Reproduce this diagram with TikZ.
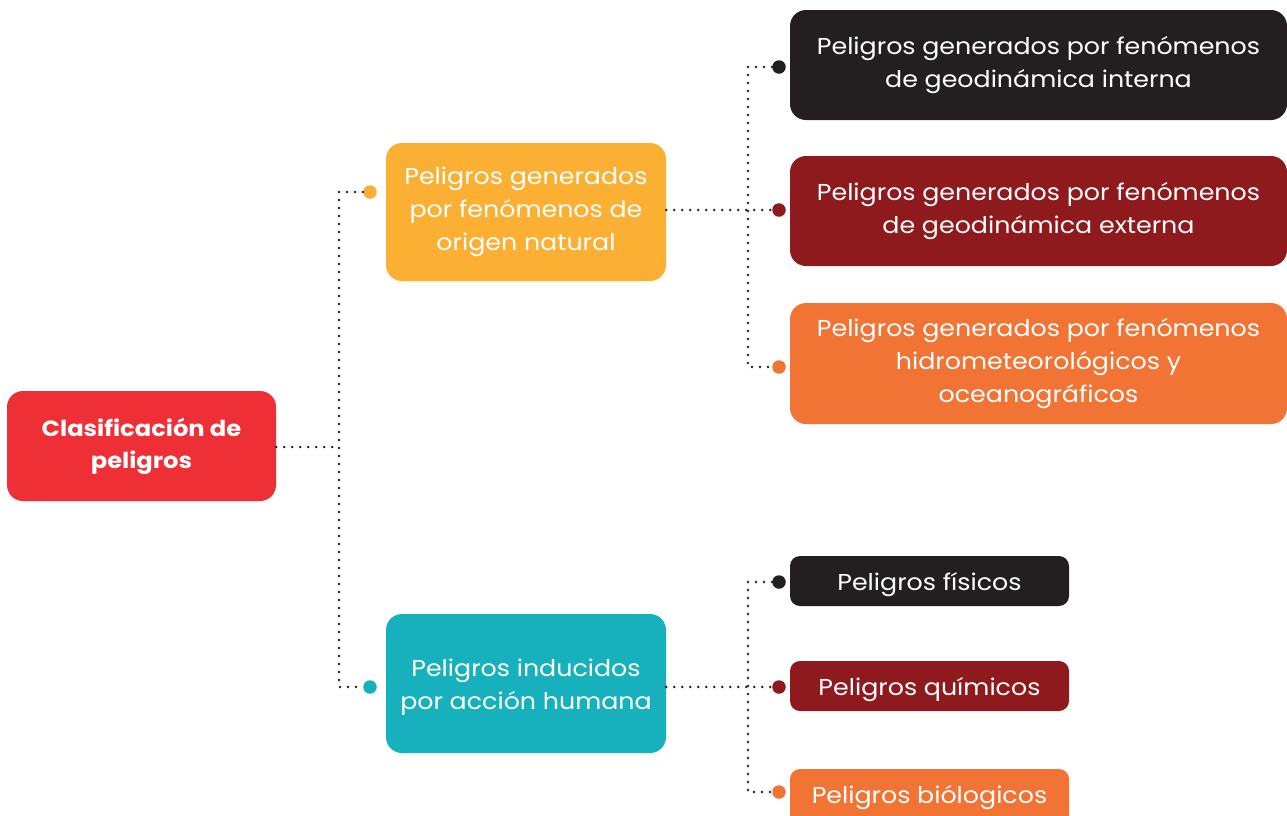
\documentclass[tikz,border=0pt]{standalone}
\usepackage{fontspec}
\setmainfont{Poppins}[FakeStretch=1.1]
\definecolor{cRed}{HTML}{EE3036}
\definecolor{cYel}{HTML}{FBB034}
\definecolor{cTeal}{HTML}{17B1BE}
\definecolor{cBlk}{HTML}{231F20}
\definecolor{cDRed}{HTML}{8F1A1E}
\definecolor{cOra}{HTML}{F27435}
\newcommand{\lowr}[2]{\raisebox{-#1}[\height][\depth]{#2}}
\begin{document}
\begin{tikzpicture}[x=1pt,y=-1pt,
  box/.style={rounded corners=16pt,text=white,align=center,inner sep=0pt,
    font=\fontsize{23}{33}\selectfont},
  sbox/.style={rounded corners=10pt,text=white,align=center,inner sep=0pt,
    font=\fontsize{23}{33}\selectfont},
  conn/.style={draw=cBlk,line width=2.8pt,line cap=round,dash pattern=on 0pt off 8pt},
  tip/.style={circle,inner sep=0pt,minimum size=13.5pt}]
\useasboundingbox (0,0) rectangle (1287,815);
% nodes
\node[box,fill=cRed,minimum width=269pt,minimum height=110pt,font=\fontsize{22}{32}\selectfont\bfseries] (root) at (141.5,446) {Clasificación de\\peligros};
\node[box,fill=cYel,minimum width=280pt,minimum height=138pt] (nat) at (526,212) {Peligros generados\\por fenómenos de\\origen natural};
\node[box,fill=cTeal,minimum width=280pt,minimum height=139pt] (hum) at (526,683.5) {\lowr{3pt}{\begin{tabular}{@{}c@{}}Peligros inducidos\\por acción humana\end{tabular}}};
\node[box,fill=cBlk,minimum width=497pt,minimum height=110pt] (g1) at (1038.5,65) {Peligros generados por fenómenos\\de geodinámica interna};
\node[box,fill=cDRed,minimum width=497pt,minimum height=110pt] (g2) at (1038.5,211) {Peligros generados por fenómenos\\de geodinámica externa};
\node[box,fill=cOra,minimum width=497pt,minimum height=121pt] (g3) at (1038.5,363.5) {Peligros generados por fenómenos\\hidrometeorológicos y\\oceanográficos};
\node[sbox,fill=cBlk,minimum width=279pt,minimum height=50pt] (p1) at (929.5,581) {\lowr{4pt}{Peligros físicos}};
\node[sbox,fill=cDRed,minimum width=279pt,minimum height=50pt] (p2) at (929.5,686) {\lowr{4pt}{Peligros químicos}};
\node[sbox,fill=cOra,minimum width=279pt,minimum height=56pt] (p3) at (929.5,797) {\lowr{1pt}{Peligros biólogicos}};
% coordinates
\coordinate (j1) at (339,447);
\coordinate (v1t) at (339,192);
\coordinate (v1b) at (339,687);
\coordinate (j2) at (748,210);
\coordinate (v2t) at (748,67);
\coordinate (v2b) at (748,367);
\coordinate (j3) at (748,687);
\coordinate (v3t) at (748,582);
\coordinate (v3b) at (748,792);
\node[tip,fill=cYel] (dnat) at (370,192) {};
\node[tip,fill=cTeal] (dhum) at (370,687) {};
\node[tip,fill=cBlk] (d1) at (779,67) {};
\node[tip,fill=cDRed] (d2) at (779,210) {};
\node[tip,fill=cOra] (d3) at (779,367) {};
\node[tip,fill=cBlk] (d4) at (779,582) {};
\node[tip,fill=cDRed] (d5) at (779,687) {};
\node[tip,fill=cOra] (d6) at (779,792) {};
% connectors
\draw[conn] (root.east |- j1) -- (j1);
\draw[conn] (dnat.west) -- (v1t) -- (v1b) -- (dhum.west);
\draw[conn] (nat.east |- j2) -- (d2.west);
\draw[conn] (d1.west) -- (v2t) -- (v2b) -- (d3.west);
\draw[conn] (hum.east |- j3) -- (d5.west);
\draw[conn] (d4.west) -- (v3t) -- (v3b) -- (d6.west);
\end{tikzpicture}
\end{document}
